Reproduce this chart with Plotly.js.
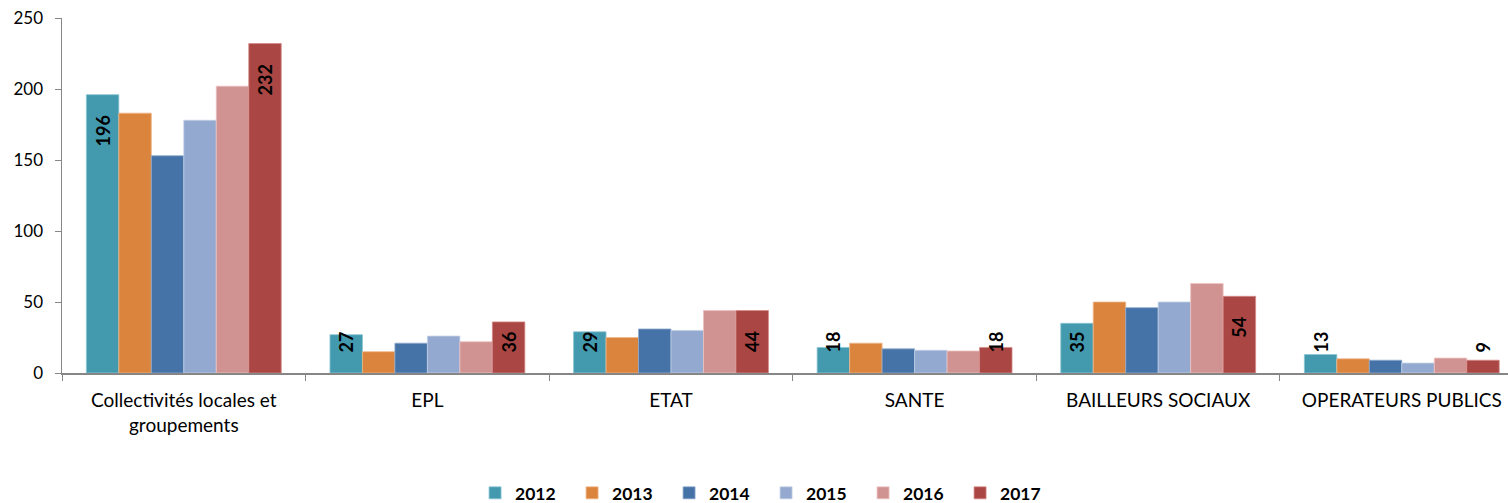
<!DOCTYPE html>
<html>
<head>
<meta charset="utf-8">
<script src="https://cdn.plot.ly/plotly-3.0.1.min.js"></script>
<style>html,body{margin:0;padding:0;background:#fff;}#chart{width:1508px;height:503px;}</style>
</head>
<body>
<div id="chart"></div>
<script>
const categories = ["Collectivités locales et<br>groupements", "EPL", "ETAT", "SANTE", "BAILLEURS SOCIAUX", "OPERATEURS PUBLICS"];
const years = ["2012", "2013", "2014", "2015", "2016", "2017"];
const v2012 = [196, 27, 29, 18, 35, 13];
const v2013 = [183, 15, 25, 21, 50, 10];
const v2014 = [153, 21, 31, 17, 46, 9];
const v2015 = [178, 26, 30, 16, 50, 7];
const v2016 = [202, 22, 44, 15.5, 63, 10.5];
const v2017 = [232, 36, 44, 18, 54, 9];
const labelledYears = ["2012", "2017"];

const series = [v2012, v2013, v2014, v2015, v2016, v2017];
const colors = ["#4399AE", "#DB843D", "#4572A7", "#93A9CF", "#D19392", "#AA4643"];
const edge = ["#8cc6d4", "#f0b88a", "#8ea9cc", "#c3d0e6", "#ecc3c2", "#d38c8a"];
const PAD = "\u00a0\u00a0\u00a0\u00a0";
const TALL = 40; // labels of bars at least this tall sit at the inner end

const labelFont = {family: "Lato, 'Open Sans', sans-serif", size: 18, color: "#000", weight: "bold"};

const traces = [];
series.forEach((vals, i) => {
  traces.push({
    type: "bar",
    name: years[i],
    offsetgroup: years[i],
    x: categories,
    y: vals,
    marker: {color: colors[i], line: {color: edge[i], width: 0.8}},
    hoverinfo: "none"
  });
});
series.forEach((vals, i) => {
  if (!labelledYears.includes(years[i])) return;
  // tall bars: label at the top end, inside
  traces.push({
    type: "bar", name: years[i] + " labels", showlegend: false, offsetgroup: years[i],
    x: categories, y: vals.map(v => v >= TALL ? v : null),
    text: vals.map(v => String(Math.round(v)) + PAD),
    marker: {color: "rgba(0,0,0,0)"},
    textposition: "inside", insidetextanchor: "end", constraintext: "none",
    textangle: -90, textfont: labelFont, hoverinfo: "none"
  });
  // short bars: label held near the axis, may rise above the bar
  traces.push({
    type: "bar", name: years[i] + " labels low", showlegend: false, offsetgroup: years[i],
    x: categories, y: vals.map(v => v < TALL ? v : null),
    text: vals.map(v => PAD + String(Math.round(v))),
    marker: {color: "rgba(0,0,0,0)"},
    textposition: "inside", insidetextanchor: "start", constraintext: "none",
    cliponaxis: false,
    textangle: -90, textfont: labelFont, hoverinfo: "none"
  });
});

const layout = {
  width: 1508,
  height: 503,
  margin: {l: 62, r: 0, t: 18, b: 130},
  paper_bgcolor: "#fff",
  plot_bgcolor: "#fff",
  font: {family: "Lato, 'Open Sans', sans-serif", size: 19, color: "#000"},
  barmode: "group",
  bargap: 0.2,
  bargroupgap: 0,
  showlegend: true,
  legend: {
    orientation: "h",
    xref: "container", yref: "container",
    x: 0.508, xanchor: "center",
    y: 0.02, yanchor: "middle",
    font: {size: 17.5, weight: "bold", color: "#000"},
    itemwidth: 30,
    entrywidth: 52,
    traceorder: "normal"
  },
  xaxis: {
    type: "category",
    range: [-0.5, 5.436],
    showline: true, linecolor: "#868686", linewidth: 1.5,
    ticks: "outside", tickson: "boundaries", ticklen: 6, tickcolor: "#868686",
    showgrid: false, zeroline: false,
    tickfont: {size: 19, color: "#000"},
    ticklabelstandoff: 10,
    fixedrange: true
  },
  yaxis: {
    range: [0, 250],
    dtick: 50, tick0: 0,
    showline: true, linecolor: "#868686", linewidth: 1.5,
    ticks: "outside", ticklen: 6, tickcolor: "#868686",
    showgrid: false, zeroline: false,
    tickfont: {size: 17, color: "#000"},
    ticklabelstandoff: 8,
    fixedrange: true
  }
};

Plotly.newPlot("chart", traces, layout, {displayModeBar: false, staticPlot: true});
</script>
</body>
</html>
